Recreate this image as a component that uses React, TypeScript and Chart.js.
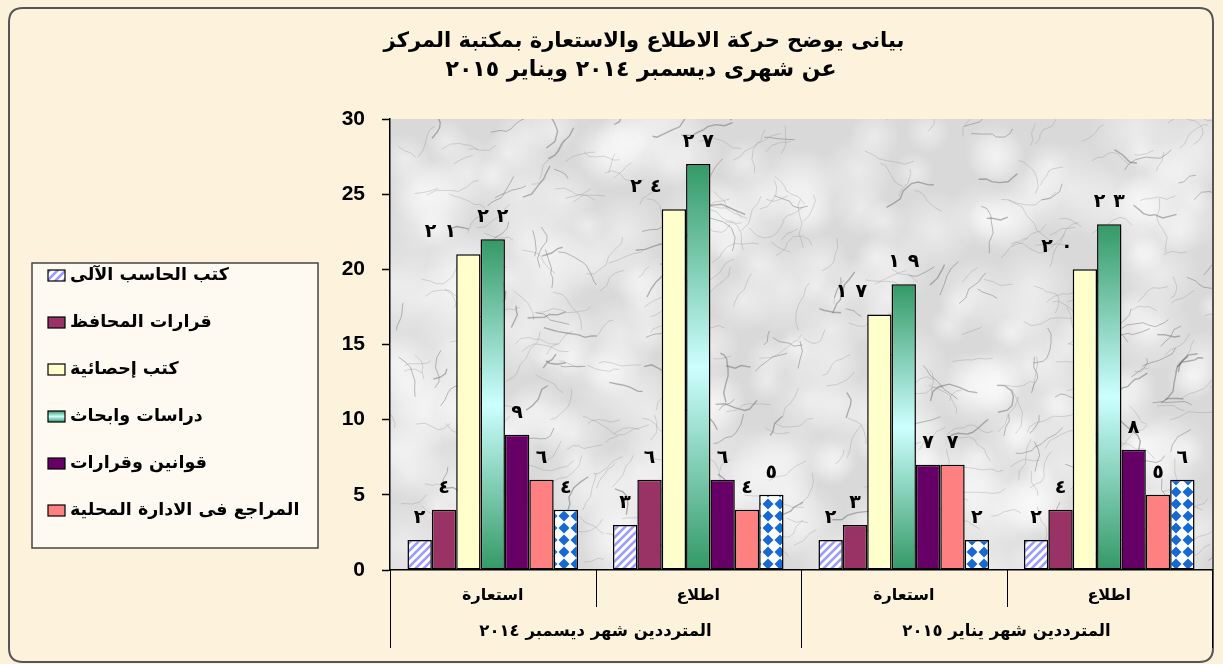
import React, { useEffect, useRef } from 'react';
import { Chart, registerables } from 'chart.js';

Chart.register(...registerables);

const W = 1223;
const H = 664;

// ---------- data ----------
const titleLines = [
  'بيانى يوضح حركة الاطلاع والاستعارة بمكتبة المركز',
  'عن شهرى ديسمبر ٢٠١٤ ويناير ٢٠١٥',
];
const categories = ['استعارة', 'اطلاع', 'استعارة', 'اطلاع'];
const monthGroups = ['المترددين شهر ديسمبر ٢٠١٤', 'المترددين شهر يناير ٢٠١٥'];

const seriesNames = [
  'كتب الحاسب الآلى',
  'قرارات المحافظ',
  'كتب إحصائية',
  'دراسات وابحاث',
  'قوانين وقرارات',
  'المراجع فى الادارة المحلية',
  'أخرى',
];
const computerBooks = [2, 3, 2, 2];
const governorDecisions = [4, 6, 3, 4];
const statisticalBooks = [21, 24, 17, 20];
const studiesResearch = [22, 27, 19, 23];
const lawsDecisions = [9, 6, 7, 8];
const localAdminRefs = [6, 4, 7, 5];
const otherRefs = [4, 5, 2, 6];
const seriesValues = [
  computerBooks,
  governorDecisions,
  statisticalBooks,
  studiesResearch,
  lawsDecisions,
  localAdminRefs,
  otherRefs,
];
const legendCount = 6;

const yMin = 0;
const yMax = 30;
const yStep = 5;

// ---------- style ----------
const AR_FONT = '"DejaVu Sans", sans-serif';
const LAT_FONT = '"Liberation Sans", Arial, sans-serif';
const labelDx = [0, 0, -28, 0, 0, 0, 0];

const toArabicDigits = (v: number | string) =>
  String(v).replace(/[0-9]/g, (d) => '٠١٢٣٤٥٦٧٨٩'[+d]);

// deterministic hash used only for the decorative marble texture
const hash = (n: number) => {
  const s = Math.sin(n * 12.9898 + 78.233) * 43758.5453;
  return s - Math.floor(s);
};

function makeHatch(): CanvasPattern | string {
  const c = document.createElement('canvas');
  c.width = 8;
  c.height = 8;
  const g = c.getContext('2d')!;
  g.fillStyle = '#ffffff';
  g.fillRect(0, 0, 8, 8);
  g.strokeStyle = '#9a9aff';
  g.lineWidth = 2.6;
  for (let k = -1; k <= 1; k++) {
    g.beginPath();
    g.moveTo(k * 8 - 1, 9);
    g.lineTo(k * 8 + 9, -1);
    g.stroke();
  }
  return g.createPattern(c, 'repeat') || '#ccccff';
}

function makeDiamonds(): CanvasPattern | string {
  const c = document.createElement('canvas');
  c.width = 12;
  c.height = 12;
  const g = c.getContext('2d')!;
  g.fillStyle = '#ffffff';
  g.fillRect(0, 0, 12, 12);
  g.fillStyle = '#1769d4';
  const pts = [
    [0, 0],
    [12, 0],
    [0, 12],
    [12, 12],
  ];
  for (const [px, py] of pts) {
    g.beginPath();
    g.moveTo(px, py - 5.5);
    g.lineTo(px + 5.5, py);
    g.lineTo(px, py + 5.5);
    g.lineTo(px - 5.5, py);
    g.closePath();
    g.fill();
  }
  return g.createPattern(c, 'repeat') || '#3a7be0';
}

function greenGradient(ctx: CanvasRenderingContext2D, top: number, bottom: number) {
  const gr = ctx.createLinearGradient(0, top, 0, bottom);
  gr.addColorStop(0, '#339966');
  gr.addColorStop(0.5, '#ccffff');
  gr.addColorStop(1, '#339966');
  return gr;
}

function drawSpacedDigits(
  ctx: CanvasRenderingContext2D,
  text: string,
  cx: number,
  cy: number,
  gap: number
) {
  const chars = Array.from(text);
  const widths = chars.map((ch) => ctx.measureText(ch).width);
  const total = widths.reduce((a, b) => a + b, 0) + gap * (chars.length - 1);
  let x = cx - total / 2;
  ctx.textAlign = 'left';
  chars.forEach((ch, i) => {
    ctx.fillText(ch, x, cy);
    x += widths[i] + gap;
  });
}

function roundRect(ctx: CanvasRenderingContext2D, x: number, y: number, w: number, h: number, r: number) {
  ctx.beginPath();
  ctx.moveTo(x + r, y);
  ctx.lineTo(x + w - r, y);
  ctx.quadraticCurveTo(x + w, y, x + w, y + r);
  ctx.lineTo(x + w, y + h - r);
  ctx.quadraticCurveTo(x + w, y + h, x + w - r, y + h);
  ctx.lineTo(x + r, y + h);
  ctx.quadraticCurveTo(x, y + h, x, y + h - r);
  ctx.lineTo(x, y + r);
  ctx.quadraticCurveTo(x, y, x + r, y);
  ctx.closePath();
}

function drawMarble(ctx: CanvasRenderingContext2D, left: number, top: number, pw: number, ph: number) {
  ctx.fillStyle = '#d9d9d9';
  ctx.fillRect(left, top, pw, ph);
  for (let i = 0; i < 260; i++) {
    const px = left + hash(i * 3 + 1) * pw;
    const py = top + hash(i * 3 + 2) * ph;
    const r = 14 + hash(i * 3 + 3) * 34;
    const g = ctx.createRadialGradient(px, py, 0, px, py, r);
    g.addColorStop(0, 'rgba(250,250,250,0.55)');
    g.addColorStop(1, 'rgba(250,250,250,0)');
    ctx.fillStyle = g;
    ctx.fillRect(px - r, py - r, 2 * r, 2 * r);
  }
  for (let i = 0; i < 420; i++) {
    let x = left + hash(i * 7 + 101) * pw;
    let y = top + hash(i * 7 + 102) * ph;
    let a = -0.4 + (hash(i * 7 + 103) - 0.5) * 1.6;
    const dark = hash(i * 7 + 104);
    ctx.strokeStyle = dark > 0.7 ? 'rgba(95,95,95,0.45)' : 'rgba(140,140,140,0.35)';
    ctx.lineWidth = dark > 0.85 ? 1.4 : 0.9;
    ctx.beginPath();
    ctx.moveTo(x, y);
    const segs = 3 + Math.floor(hash(i * 7 + 105) * 5);
    for (let s = 0; s < segs; s++) {
      a += (hash(i * 13 + s * 5 + 7) - 0.5) * 1.4;
      const len = 4 + hash(i * 11 + s * 3 + 9) * 7;
      x += Math.cos(a) * len;
      y += Math.sin(a) * len;
      ctx.lineTo(x, y);
    }
    ctx.stroke();
  }
}

export default function App() {
  const ref = useRef<HTMLCanvasElement>(null);

  useEffect(() => {
    const canvas = ref.current;
    if (!canvas) return;
    const hatch = makeHatch();
    const diamonds = makeDiamonds();
    const solid = ['', '#993366', '#ffffcc', '', '#660066', '#ff8080', ''];

    const fillFor = (i: number) => {
      if (i === 0) return hatch;
      if (i === 6) return diamonds;
      if (i === 3) {
        return (c: any) => {
          const chart = c.chart;
          const ys = chart.scales && chart.scales.y;
          if (!ys || c.type !== 'data') return '#66bb99';
          const top = ys.getPixelForValue(c.raw);
          const bot = ys.getPixelForValue(0);
          if (!isFinite(top) || !isFinite(bot) || top === bot) return '#66bb99';
          return greenGradient(chart.ctx, top, bot);
        };
      }
      return solid[i];
    };

    const datasets = seriesValues.map((vals, i) => ({
      label: seriesNames[i],
      data: vals,
      backgroundColor: fillFor(i) as any,
      borderColor: '#000000',
      borderWidth: 1.5,
      borderSkipped: false as any,
      categoryPercentage: 0.83,
      barPercentage: 1.0,
    }));

    const decor = {
      id: 'decor',
      beforeDraw(chart: any) {
        const ctx: CanvasRenderingContext2D = chart.ctx;
        const { left, top, right, bottom } = chart.chartArea;
        ctx.save();
        ctx.fillStyle = '#fcf1da';
        ctx.fillRect(0, 0, W, H);
        roundRect(ctx, 9, 8, W - 19, H - 10, 14);
        ctx.fillStyle = '#fdf3dd';
        ctx.fill();
        ctx.strokeStyle = '#555555';
        ctx.lineWidth = 2;
        ctx.stroke();
        ctx.beginPath();
        ctx.rect(left, top, right - left, bottom - top);
        ctx.clip();
        drawMarble(ctx, left, top, right - left, bottom - top);
        ctx.restore();
      },
      afterDatasetsDraw(chart: any) {
        const ctx: CanvasRenderingContext2D = chart.ctx;
        ctx.save();
        ctx.fillStyle = '#000000';
        ctx.font = `bold 19px ${AR_FONT}`;
        ctx.textBaseline = 'middle';
        chart.data.datasets.forEach((ds: any, di: number) => {
          const meta = chart.getDatasetMeta(di);
          meta.data.forEach((el: any, j: number) => {
            const v = ds.data[j];
            drawSpacedDigits(ctx, toArabicDigits(v), el.x + labelDx[di], el.y - 22, 8);
          });
        });
        ctx.restore();
      },
      afterDraw(chart: any) {
        const ctx: CanvasRenderingContext2D = chart.ctx;
        const { left, right, bottom } = chart.chartArea;
        ctx.save();
        ctx.fillStyle = '#000000';
        ctx.direction = 'rtl';
        ctx.textBaseline = 'middle';
        ctx.textAlign = 'center';
        ctx.font = `bold 21px ${AR_FONT}`;
        ctx.fillText(titleLines[0], 644, 42);
        ctx.font = `bold 22px ${AR_FONT}`;
        ctx.fillText(titleLines[1], 641, 70);

        const n = categories.length;
        const step = (right - left) / n;
        ctx.strokeStyle = '#000000';
        ctx.lineWidth = 1;
        for (let i = 0; i <= n; i++) {
          const bx = Math.round(left + i * step) + 0.5;
          ctx.beginPath();
          ctx.moveTo(bx, bottom);
          ctx.lineTo(bx, bottom + (i % 2 === 0 ? 78 : 37));
          ctx.stroke();
        }
        ctx.font = `bold 16px ${AR_FONT}`;
        const xs = chart.scales.x;
        categories.forEach((c, i) => {
          ctx.fillText(c, xs.getPixelForValue(i), bottom + 26);
        });
        ctx.font = `bold 16.5px ${AR_FONT}`;
        monthGroups.forEach((g, gi) => {
          ctx.fillText(g, left + (2 * gi + 1) * step, bottom + 62);
        });

        const lx = 32, ly = 263, lw = 286, lh = 285;
        ctx.fillStyle = 'rgba(255,255,255,0.6)';
        ctx.fillRect(lx, ly, lw, lh);
        ctx.strokeStyle = '#444444';
        ctx.lineWidth = 1.5;
        ctx.strokeRect(lx, ly, lw, lh);
        ctx.font = `bold 17.5px ${AR_FONT}`;
        ctx.textAlign = 'left';
        for (let i = 0; i < legendCount; i++) {
          const cy = 275 + i * 47;
          const sx = 48, sy = cy - 5, sw = 17, sh = 11;
          let fill: any = datasets[i].backgroundColor;
          if (typeof fill === 'function') fill = greenGradient(ctx, sy, sy + sh);
          ctx.fillStyle = fill;
          ctx.fillRect(sx, sy, sw, sh);
          ctx.strokeStyle = '#000000';
          ctx.lineWidth = 1.2;
          ctx.strokeRect(sx, sy, sw, sh);
          ctx.fillStyle = '#000000';
          ctx.fillText(seriesNames[i], 70, cy);
        }
        ctx.restore();
      },
    };

    const chart = new Chart(canvas, {
      type: 'bar',
      data: { labels: categories, datasets },
      options: {
        responsive: false,
        animation: false,
        layout: { padding: { left: 0, right: 11, top: 119, bottom: 14 } },
        plugins: {
          legend: { display: false },
          tooltip: { enabled: false },
          title: { display: false },
        },
        scales: {
          x: {
            grid: { display: false },
            ticks: { display: false },
            border: { display: true, color: '#000000', width: 1.5 },
            afterFit: (s: any) => {
              s.height = 80;
            },
          },
          y: {
            min: yMin,
            max: yMax,
            ticks: {
              stepSize: yStep,
              color: '#000000',
              padding: 17,
              font: { family: LAT_FONT, size: 21, weight: 'bold' },
            },
            grid: {
              drawOnChartArea: false,
              drawTicks: true,
              tickLength: 8,
              tickColor: '#000000',
              tickWidth: 1.5,
            },
            border: { display: true, color: '#000000', width: 1.5 },
            afterFit: (s: any) => {
              s.width = 390;
            },
          },
        },
      } as any,
      plugins: [decor],
    });

    return () => chart.destroy();
  }, []);

  return (
    <div style={{ position: 'absolute', left: 0, top: 0, width: W, height: H }}>
      <canvas ref={ref} width={W} height={H} style={{ display: 'block' }} />
    </div>
  );
}
